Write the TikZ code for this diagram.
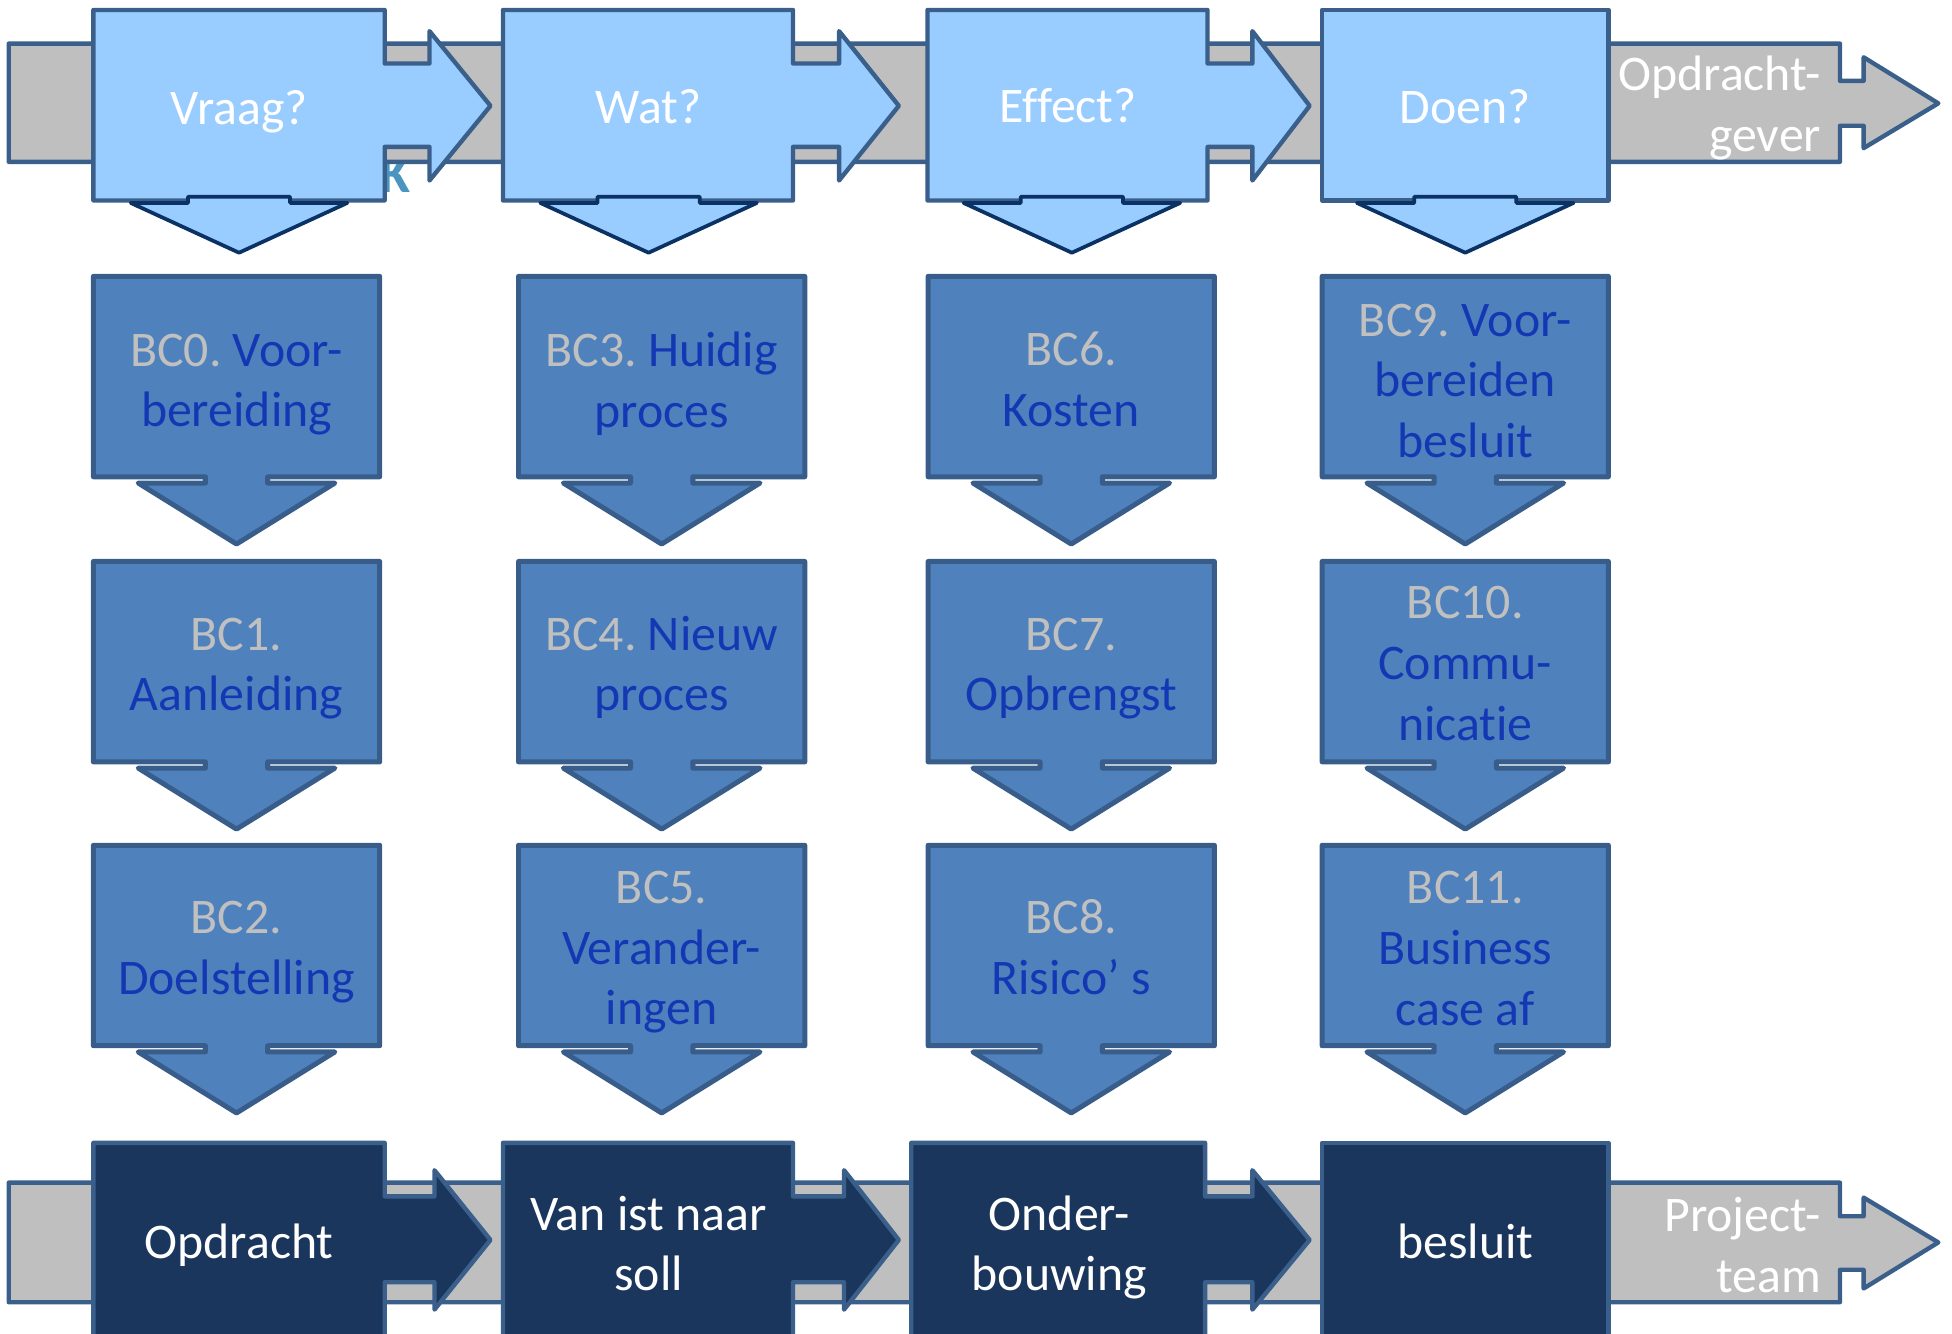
\documentclass[tikz,border=0pt]{standalone}
\usepackage{fontspec}
\setmainfont[Ligatures=NoCommon]{Carlito}
\definecolor{barfill}{HTML}{BFBFBF}
\definecolor{bordc}{RGB}{58,95,139}
\definecolor{lightfill}{HTML}{99CCFF}
\definecolor{navyline}{RGB}{10,50,100}
\definecolor{bcfill}{HTML}{4F81BD}
\definecolor{bcline}{RGB}{56,93,138}
\definecolor{bctext}{RGB}{20,56,180}
\definecolor{bcgray}{HTML}{C0C0C0}
\definecolor{darkfill}{RGB}{26,54,93}
\definecolor{kcol}{RGB}{74,149,192}
\newcommand\bcg[1]{{\color{bcgray}#1}}
\newcommand\toprbox[5]{\path[#1] (#2,8) -- (#3,8) -- (#3,51) -- (#4,51) -- (#4,25) -- (#5,85) -- (#4,145) -- (#4,118) -- (#3,118) -- (#3,161) -- (#2,161) -- cycle;}
\newcommand\botrbox[5]{\path[#1] (#2,918) -- (#3,918) -- (#3,961) -- (#4,961) -- (#4,940) -- (#5,996) -- (#4,1052) -- (#4,1030) -- (#3,1030) -- (#3,1085) -- (#2,1085) -- cycle;}
\newcommand\topdown[1]{\path[topdn] ({#1-41},158) -- ({#1+41},158) -- ({#1+41},163) -- ({#1+87},163) -- (#1,203) -- ({#1-87},163) -- ({#1-41},163) -- cycle;}
\newcommand\bcshape[2]{\path[bcs] ({#1-115},#2) -- ({#1+115},#2) -- ({#1+115},{#2+161}) -- ({#1+25},{#2+161}) -- ({#1+25},{#2+166}) -- ({#1+79},{#2+166}) -- (#1,{#2+215}) -- ({#1-79},{#2+166}) -- ({#1-25},{#2+166}) -- ({#1-25},{#2+161}) -- ({#1-115},{#2+161}) -- cycle;}
\begin{document}
\frenchspacing
\begin{tikzpicture}[x=1pt,y=-1pt,line join=round,
  barstyle/.style={fill=barfill,draw=bordc,line width=3.5pt},
  lightbox/.style={fill=lightfill,draw=bordc,line width=3.5pt},
  topdn/.style={fill=lightfill,draw=navyline,line width=3pt},
  bcs/.style={fill=bcfill,draw=bcline,line width=4pt},
  darkbox/.style={fill=darkfill,draw=bordc,line width=3.5pt},
  txt/.style={font=\fontsize{40}{48.8}\selectfont,text=white,align=center,inner sep=0pt},
  bctxt/.style={txt,text=bctext}]
\useasboundingbox (0,0) rectangle (1568,1071);
\begin{scope}
\clip (0,0) rectangle (1568,1071);
% stray letter behind the top row
\node[font=\fontsize{44}{50}\selectfont\bfseries,text=kcol,inner sep=0pt,anchor=base east] (kletter) at (330,155) {K};
% top gray process bar
\path[barstyle] (7,35) -- (1478,35) -- (1478,65) -- (1497,65) -- (1497,46) -- (1557,83) -- (1497,119) -- (1497,101) -- (1478,101) -- (1478,130) -- (7,130) -- cycle;
\node[txt,align=right,anchor=east] (opdrachtgever) at (1463,87) {Opdracht-\\gever};
% top light boxes
\toprbox{lightbox}{75}{309}{345}{394}
\toprbox{lightbox}{404}{637}{674}{722}
\toprbox{lightbox}{745}{970}{1006}{1052}
\path[lightbox] (1062,8) rectangle (1292,161);
\topdown{192}
\topdown{521}
\topdown{861}
\topdown{1177}
\node[txt] (vraag) at (192,90) {Vraag?};
\node[txt] (wat) at (521,86) {Wat?};
\node[txt] (effect) at (858,85) {Effect?};
\node[txt] (doen) at (1177,86) {Doen?};
% BC boxes
\bcshape{190}{222}
\bcshape{190}{451}
\bcshape{190}{679}
\bcshape{531.5}{222}
\bcshape{531.5}{451}
\bcshape{531.5}{679}
\bcshape{860.5}{222}
\bcshape{860.5}{451}
\bcshape{860.5}{679}
\bcshape{1177}{222}
\bcshape{1177}{451}
\bcshape{1177}{679}
\node[bctxt] (bc0) at (190,309) {\bcg{BC0.} Voor-\\bereiding};
\node[bctxt] (bc1) at (190,537) {\bcg{BC1.}\\Aanleiding};
\node[bctxt] (bc2) at (190,765) {\bcg{BC2.}\\Doelstelling};
\node[bctxt] (bc3) at (531.5,308) {\bcg{BC3.} Huidig\\proces};
\node[bctxt] (bc4) at (531.5,536) {\bcg{BC4.} Nieuw\\proces};
\node[bctxt] (bc5) at (531.5,765) {\bcg{BC5.}\\Verander-\\ingen};
\node[bctxt] (bc6) at (860.5,305) {\bcg{BC6.}\\Kosten};
\node[bctxt] (bc7) at (860.5,537) {\bcg{BC7.}\\Opbrengst};
\node[bctxt] (bc8) at (860.5,761) {\bcg{BC8.}\\Risico’ s};
\node[bctxt] (bc9) at (1177,306) {\bcg{BC9.} Voor-\\bereiden\\besluit};
\node[bctxt] (bc10) at (1177,533) {\bcg{BC10.}\\Commu-\\nicatie};
\node[bctxt] (bc11) at (1177,762) {\bcg{BC11.}\\Business\\case af};
% bottom gray process bar
\path[barstyle] (7,950) -- (1478,950) -- (1478,977) -- (1497,977) -- (1497,962) -- (1557,998) -- (1497,1035) -- (1497,1020) -- (1478,1020) -- (1478,1046) -- (7,1046) -- cycle;
\node[txt,align=right,anchor=east] (projectteam) at (1463,1000) {Project-\\team};
% bottom dark boxes
\botrbox{darkbox}{75}{309}{349}{394}
\botrbox{darkbox}{404}{637}{678}{722}
\botrbox{darkbox}{732}{968}{1006}{1052}
\path[darkbox] (1062,918) rectangle (1292,1085);
\node[txt] (opdracht) at (192,1000) {Opdracht};
\node[txt] (vanist) at (521,999) {Van ist naar\\soll};
\node[txt] (onderbouwing) at (851,1002) {Onder-\\bouwing};
\node[txt] (besluit) at (1177,997) {besluit};
\end{scope}
\end{tikzpicture}
\end{document}
